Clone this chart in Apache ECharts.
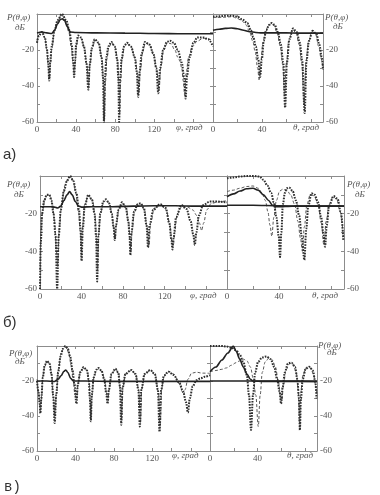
<!DOCTYPE html>
<html><head><meta charset="utf-8">
<script src="https://cdn.jsdelivr.net/npm/echarts@6/dist/echarts.min.js"></script>
<style>html,body{margin:0;padding:0;background:#fff}#c{width:380px;height:495px}</style>
</head><body><div id="c"></div>
<script>
// tick labels
const phiTickLabels = [0, 40, 80, 120];
const thetaTickLabels = [0, 40];
const dbTickLabels = [-20, -40, -60];
const panelLabels = ['а)', 'б)', 'в)'];

// ---- panel а, left (phi) ----
const aL_A = [[0,-16],[2,-12],[5,-10],[8,-13],[10,-19],[11.5,-27],[12.5,-37],[13.5,-27],[15,-18],[18,-9],[21,-3.5],[25.5,0],[30,-3.5],[33,-9],[35.5,-17],[37,-26],[38,-35],[39,-26],[40,-17],[42,-12],[45,-13],[48,-18],[50.5,-27],[52.5,-42],[54,-28],[56,-19],[59,-14],[63,-16],[66,-24],[67.5,-35],[68.5,-60],[69.5,-35],[71,-24],[73,-18],[76,-15.5],[79.5,-18],[82,-25],[83.2,-36],[84,-60],[85,-36],[86.5,-25],[89,-18],[92,-16],[96,-18],[100,-24],[102,-32],[103.5,-46],[105,-32],[107,-22],[110.5,-15.5],[115,-17],[119,-22],[122,-30],[124,-44],[126,-30],[129,-20],[133,-15.5],[136,-14.8],[140,-16],[144,-20],[148,-27],[150.5,-35],[152,-47],[153.5,-34],[156,-24],[160,-16],[164,-13],[170,-13],[175,-14],[180,-18]];
const aL_B = [[0,-15],[2,-11.5],[5,-10],[8,-13],[10,-20],[11.8,-30],[12.8,-36],[13.8,-28],[15,-20],[18,-9],[21,-4],[25,-0.5],[29.5,-4],[32.5,-10],[35,-18],[36.8,-27],[38,-33],[39.2,-25],[40.5,-17],[42.5,-12.5],[45.5,-13.5],[48.5,-19],[51,-28],[52.8,-40],[54.3,-27],[56.5,-19],[59.5,-14.5],[63.5,-16.5],[66.5,-25],[68,-38],[69,-58],[70,-38],[71.5,-25],[73.5,-18.5],[76.5,-16],[80,-18.5],[82.5,-26],[83.8,-40],[84.6,-56],[85.5,-38],[87,-25],[89.5,-18],[92.5,-16.5],[96.5,-18.5],[100.5,-25],[102.8,-33],[104.3,-44],[105.8,-31],[108,-21],[111,-16],[115.5,-17.5],[119.5,-23],[122.5,-31],[124.8,-42],[126.8,-29],[129.5,-20],[133.5,-16],[137,-16.5],[141,-20],[144,-24],[146,-26],[148,-30],[149.5,-37],[151,-45],[152.5,-33],[155,-24],[159,-18],[164,-15],[170,-13.5],[176,-14],[180,-15]];
const aL_S = [[0,-10.5],[5,-10],[10,-10.5],[15,-10.8],[18,-9],[21,-5.5],[24,-3],[26,-2.7],[28,-3.5],[31,-7],[34,-10],[40,-10.3],[60,-10.5],[90,-10.6],[120,-10.8],[150,-11],[180,-11]];
// ---- panel а, right (theta) ----
const aR_A = [[0,-1.5],[5,-1.3],[10,-1],[16,-1],[20,-1.5],[24,-3],[28,-5],[31,-9],[33,-13],[35,-18],[37,-25],[38.5,-35],[40,-25],[41.5,-15],[43.5,-9],[46,-6],[48,-5],[50.5,-6],[53,-10],[55.5,-17],[57.5,-27],[59,-52],[60.5,-27],[62.5,-14],[65.5,-8],[68.5,-10],[71,-16],[73,-26],[75,-55],[76.5,-26],[78.5,-15],[81.5,-9.3],[84.5,-11],[87,-17],[89,-24],[90,-31]];
const aR_B = [[0,-2],[8,-1.8],[16,-1.5],[20,-2.5],[24,-4],[27,-6],[30,-10],[32.5,-15],[34.5,-21],[36.5,-30],[37.8,-37],[39,-27],[40.8,-16],[43,-9.5],[45.5,-6.3],[47.5,-5.5],[50,-6.5],[52.5,-10.5],[55,-18],[57,-28],[58.5,-45],[60,-28],[62,-15],[65,-8.5],[68,-10.5],[70.5,-17],[72.5,-27],[74.5,-50],[76,-27],[78,-16],[81,-9.5],[84,-11.5],[86.5,-18],[88.5,-25],[90,-30]];
const aR_S = [[0,-9],[5,-8.5],[10,-8],[15,-7.8],[20,-8.2],[25,-9],[30,-9.8],[35,-10.3],[40,-10.5],[50,-10.5],[60,-10.5],[70,-10.6],[80,-10.6],[90,-10.6]];

// ---- panel б, left ----
const bL_A = [[0,-60],[0.8,-35],[2,-20],[4,-13],[6.5,-10],[9,-10],[11,-13],[13,-20],[15,-32],[16.5,-60],[18,-32],[20,-18],[23,-8],[26,-2.5],[29,0],[32,-2.5],[35,-9],[37.5,-18],[39,-28],[40,-45],[41.2,-28],[43,-16],[46.5,-10],[50,-12.5],[52.5,-20],[54,-32],[55,-56],[56.2,-32],[58,-20],[61,-13.5],[63.5,-12.4],[66.5,-14.5],[69,-20],[70.8,-27],[72,-34],[73.2,-26],[75.5,-18],[79,-14],[82.5,-16.5],[85,-24],[86.2,-32],[87,-42],[88,-30],[90.5,-19],[94,-15],[97,-14.5],[100,-17],[102.5,-26],[104,-38],[105.5,-26],[109,-18],[115.5,-15],[121,-17],[124.5,-25],[126.5,-34],[127.5,-39],[128.5,-33],[131,-22],[136,-15.4],[141,-17.5],[145,-24],[147.5,-31],[149,-36.6],[150.5,-30],[153,-21],[157,-15.5],[163.5,-13.6],[170,-13.5],[176,-13.8],[180,-14]];
const bL_B = [[0,-50],[1,-30],[2.5,-18],[5,-12],[7.5,-10],[10,-11],[12,-15],[14,-24],[15.8,-40],[17,-48],[18.5,-28],[21,-14],[24,-5],[27,-1],[29.5,-0.5],[32,-3],[34.5,-9],[37,-19],[38.8,-30],[39.8,-40],[41,-26],[43,-15],[46.5,-10.5],[50.5,-13],[53,-21],[54.5,-34],[55.5,-50],[56.6,-30],[58.5,-19],[61.5,-13.5],[64,-13],[67,-15],[69.5,-21],[71.2,-29],[72.4,-33],[73.6,-25],[76,-17.5],[79.5,-14.5],[83,-17],[85.5,-25],[86.8,-36],[87.6,-40],[88.6,-29],[91,-19],[94.5,-15.5],[97.5,-15],[100.5,-18],[103,-27],[105,-37],[106.5,-25],[110,-17],[116,-15.5],[121.5,-18],[125,-26],[127.2,-36],[128.4,-37],[129.6,-30],[132,-20],[137,-16],[142,-16.5],[147,-18],[151,-21],[153.5,-25],[155.6,-29],[157.5,-25],[160.5,-18],[165,-14.5],[170,-14],[175,-13.5],[180,-13]];
const bL_S = [[0,-16.3],[5,-16.3],[10,-16.3],[14,-16.5],[17,-17],[20,-16],[23,-13],[26,-10],[28.5,-8.3],[31,-10],[34,-13.5],[37,-16],[40,-16.5],[50,-16.3],[70,-16.3],[90,-16],[110,-15.8],[130,-15.8],[150,-16],[170,-16],[180,-16]];
// ---- panel б, right ----
const bR_A = [[0,-1.2],[5,-0.8],[10,-0.3],[15,0],[20,0],[25,-0.3],[28,-2],[31,-5],[34,-9],[36,-14],[38,-22],[39.8,-32],[40.8,-43],[41.8,-30],[43,-15],[44.5,-9],[46,-6.5],[48,-6.2],[50.5,-8],[53,-13],[55.5,-21],[57.5,-32],[59.5,-44.6],[61,-28],[62.5,-16],[65,-9.2],[67.5,-10],[70,-14],[72.5,-22],[74,-30],[75.4,-37.5],[76.8,-26],[78.5,-16],[82,-10.6],[85,-12],[87.5,-19],[89.5,-34]];
const bR_B = [[0,-8.3],[5,-7.5],[10,-6.5],[15,-5.6],[20,-5.3],[24,-6.5],[27,-9],[29.5,-13],[31.5,-19],[33,-26],[34.5,-32],[36,-22],[38,-13],[40.5,-8],[43,-7],[46,-7.5],[49,-10],[52,-15],[54.5,-24],[56.5,-33],[58,-40],[59.5,-27],[61.5,-15],[64,-10],[67,-10.5],[70,-15],[72.5,-25],[74.5,-36.6],[76.3,-24],[78.5,-15],[81.5,-11],[84.5,-12.5],[87,-19],[89.5,-32]];
const bR_S = [[0,-11],[5,-9.5],[10,-8],[15,-6.8],[20,-6.5],[24,-7.5],[28,-10],[32,-13],[35,-15.5],[38,-16.3],[45,-16.2],[55,-16],[65,-16],[75,-16],[85,-16],[90,-16]];
const bR_S2 = [[0,-15.5],[20,-15.5],[40,-15.8],[60,-16],[90,-16]];

// ---- panel в, left ----
const cL_A = [[0,-20],[1.5,-26],[2.8,-33],[3.5,-38.5],[4.5,-30],[6,-18],[8,-11],[10.4,-8.5],[13,-10],[15,-16],[16.8,-28],[18.4,-44],[20,-28],[22,-15],[24.5,-6],[27,-1.5],[29.4,0],[32,-1.5],[34.5,-6],[37,-14],[39,-22],[41,-33],[42.5,-22],[45,-15],[48.5,-12],[52,-14],[54,-20],[55,-30],[56,-43],[57,-28],[59,-18],[61.5,-13.5],[64,-12.5],[67,-14],[70,-19],[72,-27],[73.4,-33],[74.8,-25],[77.5,-16],[81.4,-13],[84.5,-15],[86.3,-23],[87.6,-45],[89,-24],[92,-16],[98,-13.7],[102.5,-16],[105.5,-25],[107,-46],[108.5,-25],[112,-16],[117.8,-13.7],[122.5,-16],[125.8,-25],[127.5,-49],[129.2,-25],[132,-17],[136.8,-14.7],[142,-16.5],[148,-21],[152,-26],[155,-32],[157,-38],[159,-30],[162,-23],[166,-19.5],[170,-18.5],[175,-17.5],[180,-16.6]];
const cL_B = [[0,-19],[1.8,-27],[3,-35],[3.8,-36],[4.8,-28],[6.3,-17],[8.3,-10.5],[10.8,-9],[13.3,-10.5],[15.3,-17],[17,-30],[18.6,-40],[20.2,-27],[22.5,-13],[25,-4],[28,-0.5],[30.5,-0.5],[33,-4],[35.5,-11],[37.5,-19],[39.5,-28],[41.3,-30],[42.8,-21],[45.3,-14],[49,-12.5],[52.3,-14],[54.3,-21],[55.3,-32],[56.3,-40],[57.3,-27],[59.3,-17.5],[62,-13.5],[64.5,-13],[67.5,-14.5],[70.5,-20],[72.5,-28],[73.8,-31],[75.2,-24],[78,-15.5],[82,-13.5],[85,-15.5],[86.8,-25],[88,-42],[89.4,-23],[92.5,-15.5],[98.5,-14],[103,-16.5],[106,-26],[107.6,-44],[109.1,-24],[112.5,-15.5],[118.3,-14],[123,-16.5],[126.3,-26],[128.2,-46],[129.8,-24],[132.5,-16.5],[137.3,-14.5],[142,-16],[146,-19],[149,-23],[151,-26],[152.5,-28],[154,-25],[157,-19],[161,-15.5],[166,-15],[172,-15.5],[180,-15.6]];
const cL_S = [[0,-20],[10,-20],[18,-20.3],[22,-19],[25,-17],[28,-14.5],[30,-13.7],[32,-15],[35,-18.5],[38,-20],[50,-20],[80,-20.2],[110,-20.2],[140,-20.2],[180,-20.2]];
// ---- panel в, right ----
const cR_A = [[0,0],[5,0],[10,0],[14,-0.3],[18,-1],[22,-2.5],[25,-5],[28,-9],[31,-16.6],[32.8,-28],[34.5,-48],[36.2,-28],[38,-15],[40.5,-9],[44,-6.5],[47.6,-6],[51,-7.5],[54,-12],[56.5,-19],[58.5,-26],[59.8,-33],[61,-24],[63,-15],[65.5,-10],[68.6,-9.5],[71.5,-12],[73.5,-19],[74.8,-30],[75.6,-48],[76.5,-30],[78,-19],[80.5,-13],[83.5,-11.8],[86.5,-14],[88.5,-20],[89.6,-30]];
const cR_B = [[0,-14.7],[5,-14],[10,-13.3],[14,-12.5],[18,-11],[22,-9.5],[25,-8.5],[28,-7.5],[31,-8.5],[34,-12],[36.5,-19],[38.5,-28],[40.6,-46],[42.2,-28],[44,-15],[46.5,-9],[49.5,-7],[52.5,-8],[55,-12],[57.5,-20],[59.3,-29],[60.5,-31],[61.8,-22],[64,-13.5],[67,-10],[70,-10.5],[72.5,-15],[74.3,-25],[75.2,-44],[76.2,-27],[78.3,-16],[81.5,-12],[84.5,-12.5],[87,-16],[89,-23],[90,-28]];
const cR_S = [[0,-14.7],[5,-12],[10,-8],[15,-4],[19.6,0],[22,-3],[25,-7.5],[28,-12],[31,-16],[34,-19],[36,-20],[45,-20.2],[60,-20.2],[75,-20.2],[90,-20.2]];
const cR_S2 = [[0,-20],[30,-20],[60,-20],[90,-20.2]];

const gridsPx = [
  {left:37, top:14, width:176, height:108},
  {left:213, top:14, width:110, height:108},
  {left:40, top:176, width:187, height:113},
  {left:227, top:176, width:117, height:113},
  {left:37, top:346, width:173, height:105},
  {left:210, top:346, width:107, height:105}
];
const seriesSets = [
  {A:aL_A, B:aL_B, S:[aL_S]},
  {A:aR_A, B:aR_B, S:[aR_S]},
  {A:bL_A, B:bL_B, S:[bL_S]},
  {A:bR_A, B:bR_B, S:[bR_S, bR_S2]},
  {A:cL_A, B:cL_B, S:[cL_S]},
  {A:cR_A, B:cR_B, S:[cR_S, cR_S2]}
];

const axisColor = '#8c8c8c';
const labelFont = 'Liberation Serif';
const xAxes = [], yAxes = [], series = [];
gridsPx.forEach((g, i) => {
  const isLeft = i % 2 === 0;
  const allowed = isLeft ? phiTickLabels : thetaTickLabels;
  ['bottom', 'top'].forEach(pos => {
    xAxes.push({type:'value', gridIndex:i, position:pos, min:0, max:isLeft?180:90, interval:20,
      axisLine:{show:true, onZero:false, lineStyle:{color:axisColor, width:1}},
      axisTick:{show:true, inside:true, length:3, lineStyle:{color:axisColor}},
      axisLabel:{show:pos==='bottom', margin:3, fontSize:9, fontFamily:labelFont, color:'#555',
        showMaxLabel:true, showMinLabel:true,
        formatter: v => allowed.includes(v) ? String(v) : ''},
      splitLine:{show:false}});
  });
  ['left', 'right'].forEach(pos => {
    const showLab = (isLeft && pos === 'left') || (!isLeft && pos === 'right');
    yAxes.push({type:'value', gridIndex:i, position:pos, min:-60, max:0, interval:10,
      axisLine:{show:true, onZero:false, lineStyle:{color:axisColor, width:1}},
      axisTick:{show:true, inside:true, length:3, lineStyle:{color:axisColor}},
      axisLabel:{show:showLab, margin:3, fontSize:9, fontFamily:labelFont, color:'#555',
        formatter: v => dbTickLabels.includes(v) ? String(v) : ''},
      splitLine:{show:false}});
  });
  const set = seriesSets[i];
  const base = {type:'line', xAxisIndex:2*i, yAxisIndex:2*i, showSymbol:false, smooth:0.35,
    smoothMonotone:'x', animation:false, silent:true, clip:true};
  series.push(Object.assign({}, base, {data:set.B, lineStyle:{type:[3,2], width:1, color:'#5a5a5a'}}));
  series.push(Object.assign({}, base, {data:set.A, lineStyle:{type:[1.6,1.2], width:2, color:'#2e2e2e'}}));
  set.S.forEach(s => series.push(Object.assign({}, base, {data:s, smooth:0.3, lineStyle:{type:'solid', width:1.6, color:'#222'}})));
});

const italic = 'italic 9px "Liberation Serif"';
const nameFill = '#555';
function txt(t, x, y, font, fill, align) {
  return {type:'text', x:x, y:y, style:{text:t, font:font, fill:fill||nameFill, align:align||'left', verticalAlign:'middle'}};
}
const graphics = [
  // panel а
  txt('P(θ,φ)', 7, 18, italic), txt('дБ', 15, 28, italic),
  txt('P(θ,φ)', 325, 18, italic), txt('дБ', 333, 27, italic),
  txt('φ, град', 176, 128, italic), txt('θ, град', 293, 128, italic),
  txt(panelLabels[0], 3, 155, '15px "Liberation Sans"', '#333'),
  // panel б
  txt('P(θ,φ)', 7, 185, italic), txt('дБ', 14, 195, italic),
  txt('P(θ,φ)', 347, 185, italic), txt('дБ', 355, 195, italic),
  txt('φ, град', 190, 296, italic), txt('θ, град', 312, 296, italic),
  txt(panelLabels[1], 3, 323, '15px "Liberation Sans"', '#333'),
  // panel в
  txt('P(θ,φ)', 9, 354, italic), txt('дБ', 15, 362, italic),
  txt('P(θ,φ)', 318, 346, italic), txt('дБ', 327, 353, italic),
  txt('φ, град', 172, 456, italic), txt('θ, град', 287, 456, italic),
  txt(panelLabels[2], 4, 487, '14px "Liberation Mono"', '#333')
];

const chart = echarts.init(document.getElementById('c'), null, {renderer:'canvas'});
chart.setOption({
  animation:false,
  backgroundColor:'#ffffff',
  grid: gridsPx.map(g => Object.assign({containLabel:false}, g)),
  xAxis: xAxes,
  yAxis: yAxes,
  series: series,
  graphic: graphics
});
</script></body></html>
